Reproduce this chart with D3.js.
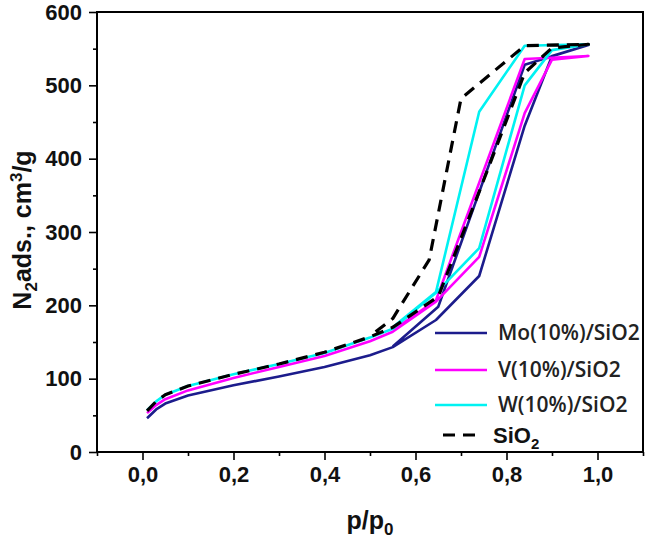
<!DOCTYPE html>
<html>
<head>
<meta charset="utf-8">
<script src="https://cdn.jsdelivr.net/npm/d3@7"></script>
<style>
  html, body { margin: 0; padding: 0; background: #fff; }
  svg { display: block; }
</style>
</head>
<body>
<svg id="chart" width="645" height="538"></svg>
<script>
// ---- data ----
const moP  = [0.01,0.03,0.05,0.10,0.20,0.30,0.40,0.50,0.55,0.645,0.74,0.84,0.90,0.98,0.84,0.65,0.55];
const moV  = [46,58,66,77,91,103,116,132,143,180,240,445,540,555,528,198,144];

const vP   = [0.01,0.03,0.05,0.10,0.20,0.30,0.40,0.50,0.55,0.645,0.74,0.84,0.90,0.98,0.84,0.645,0.55];
const vV   = [53,64,72,84,101,116,131,151,164,205,266,462,535,540,536,207,166];

const wP   = [0.01,0.03,0.05,0.10,0.20,0.30,0.40,0.50,0.55,0.645,0.74,0.84,0.90,0.98,0.84,0.74,0.645,0.55];
const wV   = [57,69,78,90,106,120,135,156,168,217,278,500,548,556,554,464,218,170];

const siP  = [0.01,0.03,0.05,0.10,0.20,0.30,0.40,0.50,0.55,0.65,0.74,0.84,0.90,0.98,0.84,0.70,0.63,0.55,0.50];
const siV  = [56,69,78,90,106,120,136,157,170,212,355,517,551,556,554,482,262,182,158];

const seriesNames  = ["Mo(10%)/SiO2", "V(10%)/SiO2", "W(10%)/SiO2", "SiO2"];
const seriesColors = ["#1c1c8c", "#ff00ff", "#00f2f2", "#000000"];

const xTicksMajor = [0, 0.2, 0.4, 0.6, 0.8, 1.0];
const xTicksMinor = [-0.1, 0.1, 0.3, 0.5, 0.7, 0.9, 1.1];
const yTicksMajor = [0, 100, 200, 300, 400, 500, 600];
const yTicksMinor = [50, 150, 250, 350, 450, 550];

// ---- layout ----
const svg = d3.select("#chart");
const L = 97, R = 643, T = 12, B = 452;

const x = d3.scaleLinear().domain([-0.1, 1.1]).range([L, R]);
const y = d3.scaleLinear().domain([0, 600]).range([B, T]);

const fmtX = d => d3.format(".1f")(d).replace(".", ",");

// axes
const tickFont = "'Liberation Sans', Arial, sans-serif";

const xAxisMaj = d3.axisBottom(x).tickValues(xTicksMajor).tickSize(8).tickPadding(6).tickFormat(fmtX);
const xAxisMin = d3.axisBottom(x).tickValues(xTicksMinor).tickSize(4).tickFormat("");
const yAxisMaj = d3.axisLeft(y).tickValues(yTicksMajor).tickSize(8).tickPadding(7).tickFormat(d3.format("d"));
const yAxisMin = d3.axisLeft(y).tickValues(yTicksMinor).tickSize(4).tickFormat("");

function styleAxis(g) {
  g.select(".domain").remove();
  g.selectAll(".tick line").attr("stroke", "#000").attr("stroke-width", 1.6);
  g.selectAll(".tick text")
    .attr("fill", "#111")
    .style("font-family", tickFont)
    .style("font-weight", "bold")
    .style("font-size", "22px");
}

svg.append("g").attr("transform", `translate(0,${B})`).call(xAxisMin).call(styleAxis);
svg.append("g").attr("transform", `translate(0,${B})`).call(xAxisMaj).call(styleAxis);
svg.append("g").attr("transform", `translate(${L},0)`).call(yAxisMin).call(styleAxis);
svg.append("g").attr("transform", `translate(${L},0)`).call(yAxisMaj).call(styleAxis);

// frame
svg.append("rect")
  .attr("x", L).attr("y", T)
  .attr("width", R - L).attr("height", B - T)
  .attr("fill", "none").attr("stroke", "#000").attr("stroke-width", 2);

// lines
const seriesData = [
  moP.map((p, i) => [p, moV[i]]),
  vP.map((p, i) => [p, vV[i]]),
  wP.map((p, i) => [p, wV[i]]),
  siP.map((p, i) => [p, siV[i]])
];

const line = d3.line().x(d => x(d[0])).y(d => y(d[1])).curve(d3.curveLinear);

seriesData.forEach((data, i) => {
  const path = svg.append("path")
    .datum(data)
    .attr("d", line)
    .attr("fill", "none")
    .attr("stroke", seriesColors[i])
    .attr("stroke-linejoin", "round")
    .attr("stroke-width", i === 3 ? 3.2 : 2.6);
  if (i === 3) path.attr("stroke-dasharray", "12,8");
});

// legend
const legY = [333, 370, 405, 435];
seriesNames.forEach((name, i) => {
  const g = svg.append("g");
  g.append("line")
    .attr("x1", i === 3 ? 443 : 435).attr("x2", i === 3 ? 483 : 487)
    .attr("y1", legY[i]).attr("y2", legY[i])
    .attr("stroke", seriesColors[i])
    .attr("stroke-width", i === 3 ? 3 : 2.6)
    .attr("stroke-dasharray", i === 3 ? "12,8" : null);
  if (i < 3) {
    g.append("text")
      .attr("x", 498).attr("y", legY[i])
      .attr("dy", "0.35em")
      .attr("fill", "#222")
      .style("font-family", "'Open Sans', sans-serif")
      .style("font-weight", "600")
      .style("font-size", "21px")
      .text(name);
  } else {
    const t = g.append("text")
      .attr("x", 493).attr("y", legY[i])
      .attr("dy", "0.35em")
      .attr("fill", "#111")
      .style("font-family", tickFont)
      .style("font-weight", "bold")
      .style("font-size", "22px");
    t.append("tspan").text("SiO");
    t.append("tspan").attr("dy", "6").style("font-size", "15px").text("2");
  }
});

// axis titles
const xt = svg.append("text")
  .attr("x", (L + R) / 2).attr("y", 529)
  .attr("text-anchor", "middle")
  .attr("fill", "#111")
  .style("font-family", tickFont)
  .style("font-weight", "bold")
  .style("font-size", "25px");
xt.append("tspan").text("p/p");
xt.append("tspan").attr("dy", "6").style("font-size", "17px").text("0");

const yt = svg.append("text")
  .attr("transform", "translate(31,230) rotate(-90)")
  .attr("text-anchor", "middle")
  .attr("fill", "#111")
  .style("font-family", tickFont)
  .style("font-weight", "bold")
  .style("font-size", "25px");
yt.append("tspan").text("N");
yt.append("tspan").attr("dy", "6").style("font-size", "17px").text("2");
yt.append("tspan").attr("dy", "-6").text("ads., cm");
yt.append("tspan").attr("dy", "-9").style("font-size", "17px").text("3");
yt.append("tspan").attr("dy", "9").text("/g");
</script>
</body>
</html>
